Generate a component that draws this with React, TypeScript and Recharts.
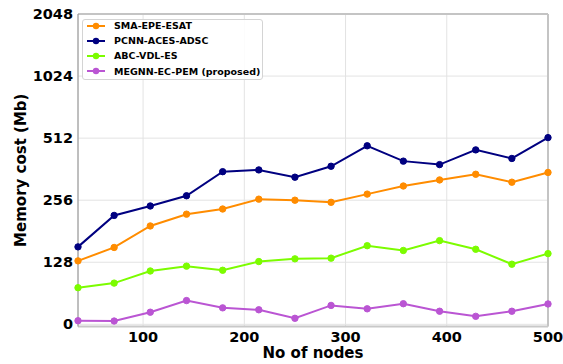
// Memory cost vs number of nodes. The y axis is doubling-spaced above 128
// and linear below it, so values are mapped onto that scale before plotting.
import { CartesianGrid, Legend, Line, LineChart, ReferenceLine, XAxis, YAxis } from 'recharts'

const NODES = [35.7, 71.4, 107.1, 142.9, 178.6, 214.3, 250, 285.7, 321.4, 357.1, 392.9, 428.6, 464.3, 500]

const SMA_EPE_ESAT = [130, 151, 192, 219, 232, 259, 256, 250, 274, 300, 321, 342, 313, 349]
const PCNN_ACES_ADSC = [152, 216, 240, 269, 352, 359, 331, 374, 470, 396, 381, 449, 408, 515]
const ABC_VDL_ES = [75.5, 85, 110, 120, 111.5, 129, 133, 134, 154, 146, 163, 148, 124, 141]
const MEGNN_EC_PEM = [7.4, 6.8, 25, 49, 34, 30, 12.4, 39, 32, 42.5, 27, 16.5, 27, 42]

const X_TICKS = [100, 200, 300, 400, 500]
const Y_TICK_VALUES = [0, 128, 256, 512, 1024, 2048]

const FONT = '"DejaVu Sans", sans-serif'

const SERIES = [
  { key: 'sma', name: 'SMA-EPE-ESAT', color: '#ff8c00', values: SMA_EPE_ESAT },
  { key: 'pcnn', name: 'PCNN-ACES-ADSC', color: '#000080', values: PCNN_ACES_ADSC },
  { key: 'abc', name: 'ABC-VDL-ES', color: '#7cfc00', values: ABC_VDL_ES },
  { key: 'megnn', name: 'MEGNN-EC-PEM (proposed)', color: '#ba55d3', values: MEGNN_EC_PEM },
]

function toScale(v: number): number {
  return v <= 128 ? v / 128 : 1 + Math.log2(v / 128)
}

const Y_TICKS = Y_TICK_VALUES.map(toScale)

const data = NODES.map((nodes, i) => {
  const row: Record<string, number> = { nodes }
  SERIES.forEach((s) => {
    row[s.key] = toScale(s.values[i])
  })
  return row
})

function LegendBox() {
  return (
    <div
      style={{
        position: 'relative',
        width: 181,
        height: 61,
        boxSizing: 'border-box',
        border: '1px solid #d4d4d4',
        borderRadius: 3,
        background: 'rgba(255,255,255,0.85)',
        fontFamily: FONT,
      }}
    >
      {SERIES.map((s, i) => (
        <div
          key={s.key}
          style={{
            position: 'absolute',
            left: 4,
            top: -1.8 + 15.1 * i,
            height: 15,
            display: 'flex',
            alignItems: 'center',
            whiteSpace: 'nowrap',
          }}
        >
          <svg width={18} height={10}>
            <line x1={0} y1={5} x2={18} y2={5} stroke={s.color} strokeWidth={2} />
            <circle cx={9} cy={5} r={3.2} fill={s.color} />
          </svg>
          <span style={{ marginLeft: 9, fontSize: 9.5, fontWeight: 'bold', color: '#000' }}>{s.name}</span>
        </div>
      ))}
    </div>
  )
}

export default function App() {
  return (
    <div style={{ position: 'absolute', left: 0, top: 0, width: 563, height: 364, background: '#fff' }}>
      <LineChart width={563} height={364} data={data} margin={{ top: 14, right: 15, bottom: 0, left: 0 }}>
        <CartesianGrid stroke="#e3e3e3" strokeWidth={1} />
        <XAxis
          dataKey="nodes"
          type="number"
          domain={['dataMin', 'dataMax']}
          ticks={X_TICKS}
          height={37.5}
          tickLine={false}
          tickSize={0}
          tickMargin={5}
          axisLine={{ stroke: '#c8c8c8', strokeWidth: 2 }}
          tick={{ fill: '#000', fontSize: 14.5, fontWeight: 'bold', fontFamily: FONT }}
          label={{
            content: ({ viewBox }: any) => (
              <text
                x={viewBox.x + viewBox.width / 2}
                y={358}
                textAnchor="middle"
                fontFamily={FONT}
                fontWeight="bold"
                fontSize={15}
                fill="#000"
              >
                No of nodes
              </text>
            ),
          }}
        />
        <ReferenceLine y={5} stroke="#c4c4c4" strokeWidth={2} />
        <ReferenceLine x={500} stroke="#c4c4c4" strokeWidth={2} />
        <YAxis
          type="number"
          domain={[-0.035, 5]}
          ticks={Y_TICKS}
          allowDataOverflow
          width={78}
          tickLine={false}
          tickSize={0}
          tickMargin={5}
          axisLine={{ stroke: '#8c8c8c', strokeWidth: 1 }}
          tickFormatter={(t: number) => String(Y_TICK_VALUES[Y_TICKS.indexOf(t)] ?? '')}
          tick={{ fill: '#000', fontSize: 14.5, fontWeight: 'bold', fontFamily: FONT }}
          label={{
            content: ({ viewBox }: any) => (
              <text
                x={26}
                y={viewBox.y + viewBox.height / 2}
                transform={`rotate(-90 26 ${viewBox.y + viewBox.height / 2})`}
                textAnchor="middle"
                fontFamily={FONT}
                fontWeight="bold"
                fontSize={15}
                fill="#000"
              >
                Memory cost (Mb)
              </text>
            ),
          }}
        />
        <Legend
          layout="vertical"
          align="center"
          verticalAlign="middle"
          content={() => <LegendBox />}
          wrapperStyle={{ left: 82, top: 19, width: 181, height: 61 }}
        />
        {SERIES.map((s) => (
          <Line
            key={s.key}
            type="linear"
            dataKey={s.key}
            name={s.name}
            stroke={s.color}
            strokeWidth={2}
            dot={{ r: 3.2, fill: s.color, stroke: s.color, strokeWidth: 1 }}
            activeDot={false}
            isAnimationActive={false}
          />
        ))}
      </LineChart>
    </div>
  )
}
